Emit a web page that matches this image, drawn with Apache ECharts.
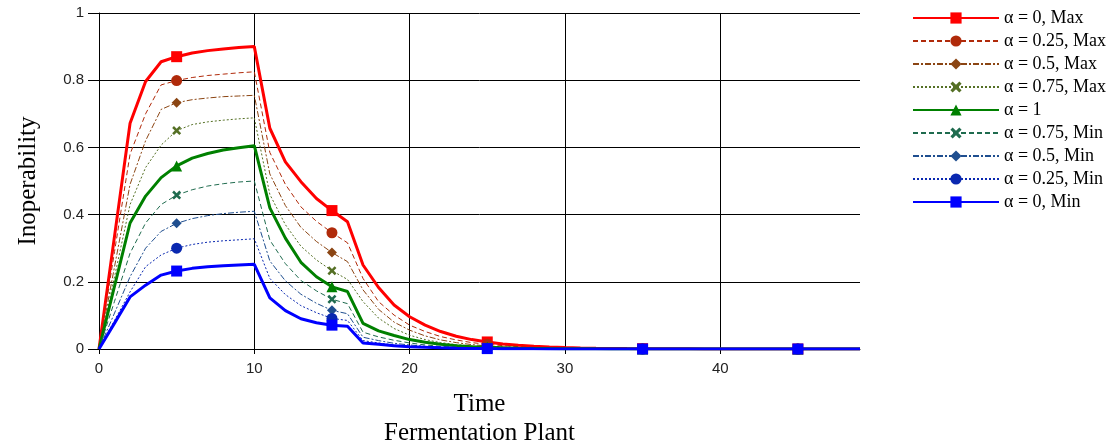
<!DOCTYPE html>
<html>
<head>
<meta charset="utf-8">
<script src="https://cdn.jsdelivr.net/npm/echarts@6/dist/echarts.min.js"></script>
<style>
html,body{margin:0;padding:0;background:#fff;}
#chart{width:1112px;height:445px;}
</style>
</head>
<body>
<div id="chart"></div>
<script>
const times = [0,1,2,3,4,5,6,7,8,9,10,11,12,13,14,15,16,17,18,19,20,21,22,23,24,25,26,27,28,29,30,31,32,33,34,35,36,37,38,39,40,41,42,43,44,45,46,47,48,49];
const xTickValues = [0,10,20,30,40];
const yTickValues = [0,0.2,0.4,0.6,0.8,1];
const markerIndices = [5,15,25,35,45];

const seriesNames = ['α = 0, Max','α = 0.25, Max','α = 0.5, Max','α = 0.75, Max','α = 1','α = 0.75, Min','α = 0.5, Min','α = 0.25, Min','α = 0, Min'];

const a0Max = [0,0.336,0.672,0.796,0.855,0.870,0.881,0.888,0.893,0.897,
0.900,0.657,0.557,0.498,0.448,0.412,0.379,0.250,0.183,0.131,
0.096,0.071,0.052,0.038,0.028,0.021,0.015,0.011,0.008,0.006,
0.0045,0.0033,0.0024,0.0018,0.0013,0.001,0.0007,0.0005,0.0004,0.0003,
0.0002,0.0001,0,0,0,0,0,0,0,0];
const a025Max = [0,0.29,0.58,0.70,0.786,0.799,0.808,0.814,0.818,0.822,
0.825,0.585,0.490,0.423,0.380,0.346,0.316,0.210,0.141,0.101,
0.071,0.052,0.037,0.027,0.019,0.014,0.010,0.007,0.005,0.0036,
0.0026,0.0019,0.0014,0.001,0.0007,0.0005,0.0004,0.0003,0.0002,0.0001,
0,0,0,0,0,0,0,0,0,0];
const a05Max = [0,0.245,0.49,0.62,0.713,0.733,0.742,0.747,0.751,0.753,
0.755,0.521,0.427,0.362,0.320,0.287,0.260,0.176,0.118,0.080,
0.056,0.039,0.027,0.019,0.013,0.009,0.006,0.0045,0.003,0.002,
0.0014,0.001,0.0007,0.0005,0.0003,0.0002,0.0001,0,0,0,
0,0,0,0,0,0,0,0,0,0];
const a075Max = [0,0.215,0.43,0.54,0.607,0.650,0.668,0.676,0.681,0.685,
0.688,0.460,0.370,0.306,0.265,0.233,0.207,0.141,0.092,0.061,
0.041,0.028,0.019,0.013,0.009,0.006,0.004,0.003,0.002,0.0013,
0.0009,0.0006,0.0004,0.0003,0.0002,0.0001,0,0,0,0,
0,0,0,0,0,0,0,0,0,0];
const a1 = [0,0.187,0.375,0.455,0.510,0.545,0.568,0.582,0.592,0.599,
0.605,0.420,0.330,0.258,0.215,0.185,0.171,0.076,0.054,0.040,
0.028,0.020,0.014,0.010,0.007,0.005,0.0035,0.0025,0.0017,0.0012,
0.0008,0.0006,0.0004,0.0003,0.0002,0.0001,0,0,0,0,
0,0,0,0,0,0,0,0,0,0];
const a075Min = [0,0.142,0.285,0.375,0.430,0.458,0.474,0.485,0.492,0.497,
0.500,0.324,0.254,0.204,0.173,0.148,0.135,0.050,0.036,0.026,
0.018,0.012,0.008,0.006,0.004,0.003,0.002,0.0014,0.001,0.0007,
0.0005,0.0003,0.0002,0.0001,0,0,0,0,0,0,
0,0,0,0,0,0,0,0,0,0];
const a05Min = [0,0.107,0.215,0.300,0.350,0.374,0.388,0.397,0.403,0.407,
0.410,0.262,0.203,0.163,0.136,0.115,0.105,0.035,0.025,0.017,
0.012,0.008,0.006,0.004,0.003,0.002,0.0014,0.001,0.0007,0.0005,
0.0003,0.0002,0.0001,0,0,0,0,0,0,0,
0,0,0,0,0,0,0,0,0,0];
const a025Min = [0,0.085,0.170,0.245,0.280,0.300,0.311,0.318,0.322,0.325,
0.328,0.210,0.162,0.129,0.108,0.091,0.085,0.025,0.018,0.012,
0.008,0.006,0.004,0.003,0.002,0.0014,0.001,0.0007,0.0005,0.0003,
0.0002,0.0001,0,0,0,0,0,0,0,0,
0,0,0,0,0,0,0,0,0,0];
const a0Min = [0,0.077,0.155,0.190,0.220,0.232,0.240,0.245,0.248,0.250,
0.252,0.152,0.114,0.090,0.078,0.071,0.068,0.018,0.014,0.010,
0.007,0.005,0.0035,0.0025,0.0017,0.0012,0.0008,0.0006,0.0004,0.0003,
0.0002,0.0001,0,0,0,0,0,0,0,0,
0,0,0,0,0,0,0,0,0,0];

const allValues = [a0Max,a025Max,a05Max,a075Max,a1,a075Min,a05Min,a025Min,a0Min];

const crossPath = 'path://M2,0 L5,3 L8,0 L10,2 L7,5 L10,8 L8,10 L5,7 L2,10 L0,8 L3,5 L0,2 Z';
const styles = [
  {color:'#FF0000', width:3, type:'solid', symbol:'rect', size:11},
  {color:'#B02A0A', width:1, type:[5,3], symbol:'circle', size:11},
  {color:'#8B4513', width:1, type:[6,2,2,2], symbol:'diamond', size:10},
  {color:'#557025', width:1, type:[2,2], symbol:crossPath, size:9},
  {color:'#008000', width:3, type:'solid', symbol:'triangle', size:11},
  {color:'#1F6B4E', width:1, type:[5,3], symbol:crossPath, size:9},
  {color:'#1F4E8F', width:1, type:[6,2,2,2], symbol:'diamond', size:10},
  {color:'#0A28B0', width:1, type:[2,2], symbol:'circle', size:11},
  {color:'#0000FF', width:3, type:'solid', symbol:'rect', size:11}
];

const series = seriesNames.map((name, k) => {
  const st = styles[k];
  return {
    name: name,
    type: 'line',
    data: times.map((t, i) => [t, allValues[k][i]]),
    symbol: st.symbol,
    symbolSize: (v, p) => markerIndices.indexOf(p.dataIndex) >= 0 ? st.size : 0,
    showAllSymbol: true,
    showSymbol: true,
    lineStyle: {color: st.color, width: st.width, type: st.type},
    itemStyle: {color: st.color},
    z: 2 + k
  };
});

const chart = echarts.init(document.getElementById('chart'), null, {renderer:'canvas'});
chart.setOption({
  animation: false,
  backgroundColor: '#fff',
  grid: {left: 99, right: 252, top: 13, bottom: 96, containLabel: false, outerBoundsMode: 'none'},
  legend: {
    orient: 'vertical',
    left: 907,
    top: 4,
    itemWidth: 86,
    itemHeight: 14,
    itemGap: 5,
    data: seriesNames,
    textStyle: {fontFamily: 'Liberation Serif', fontSize: 18, color: '#000'}
  },
  xAxis: {
    type: 'value',
    min: 0,
    max: 49,
    interval: 10,
    name: 'Time\nFermentation Plant',
    nameLocation: 'middle',
    nameGap: 41,
    nameTextStyle: {fontFamily: 'Liberation Serif', fontSize: 25, color: '#000', lineHeight: 29},
    axisLine: {show: true, lineStyle: {color: '#000', width: 1}},
    axisTick: {show: true, length: 5, customValues: xTickValues, lineStyle: {color: '#000'}},
    axisLabel: {customValues: xTickValues, margin: 12, fontFamily: 'Liberation Sans', fontSize: 15, color: '#222'},
    splitLine: {show: true, lineStyle: {color: '#000', width: 1}}
  },
  yAxis: {
    type: 'value',
    min: 0,
    max: 1,
    interval: 0.2,
    name: 'Inoperability',
    nameLocation: 'middle',
    nameGap: 58,
    nameTextStyle: {fontFamily: 'Liberation Serif', fontSize: 25, color: '#000'},
    axisLine: {show: true, lineStyle: {color: '#000', width: 1}},
    axisTick: {show: true, length: 11, lineStyle: {color: '#000'}},
    axisLabel: {margin: 15, fontFamily: 'Liberation Sans', fontSize: 15, color: '#222'},
    splitLine: {show: true, lineStyle: {color: '#000', width: 1}}
  },
  series: series
});
</script>
</body>
</html>
